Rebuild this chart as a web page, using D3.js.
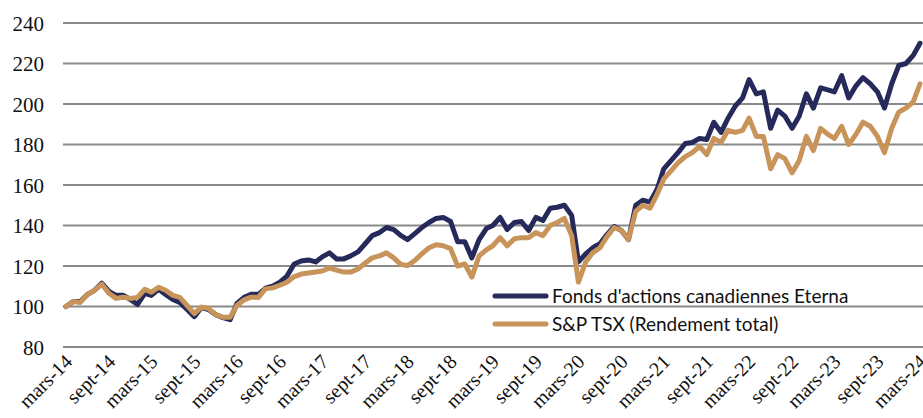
<!DOCTYPE html>
<html lang="fr">

<head>
    <meta charset="UTF-8">
    <title>Fonds d'actions canadiennes Eterna</title>
    <script src="https://d3js.org/d3.v7.min.js"></script>
    <style>
        body {
            margin: 0;
            background: #fff;
        }

        svg {
            display: block;
        }

        .tick-label {
            font-family: "Liberation Serif", "Times New Roman", serif;
            font-size: 20px;
            fill: #111;
        }

        .y-label {
            font-size: 21px;
        }

        .legend-label {
            font-family: Lato, "Liberation Sans", sans-serif;
            font-size: 19px;
            fill: #111;
        }
    </style>
</head>

<body>
<svg width="923" height="418"></svg>

<script>
    // valeurs mensuelles, mars 2014 = 100
    const startMonth = new Date(2014, 2, 1);

    const fund = [
        100, 102.5, 102.5, 106, 108, 111.5, 107.5, 105.5, 105.5, 103.5, 101, 106.5,
        105.5, 108.5, 106, 103.5, 102, 98.5, 95, 99.5, 98.5, 96, 94.5, 93.5,
        101.5, 104.5, 106, 106, 109, 110, 112, 115, 121, 122.5, 123, 122,
        124.5, 126.5, 123.5, 123.5, 125, 127, 131, 135, 136.5, 139, 138, 135,
        133, 136, 139, 141.5, 143.5, 144, 142, 132, 132, 124, 133, 138.5,
        140, 144, 138, 141.5, 142, 137.5, 144, 142.5, 148.5, 149, 150, 145,
        122, 126, 129, 131, 135.5, 139.5, 137.5, 133, 150, 152.5, 151.5, 158,
        168, 172, 176, 180.5, 181, 183, 182.5, 191, 186, 193, 199, 203,
        212, 205, 206, 188, 197, 194, 188, 194, 205, 198, 208, 207,
        206, 214, 203, 209, 213, 210, 206, 198, 210, 219, 220, 224,
        230
    ];

    const tsx = [
        100, 102.5, 102, 106, 108, 111, 106.5, 104, 104.6, 104, 104.5, 108.5,
        107, 109.5, 108, 105.5, 104.5, 100.5, 96.5, 99.7, 99, 96, 94.7, 94.7,
        100.5, 103.3, 104.6, 104.5, 108.7, 109.2, 110.5, 112, 114.8, 116, 116.5, 117,
        117.5, 119, 118, 117, 117, 118.5, 121.5, 124, 125, 126.5, 124, 120.7,
        120.2, 122.7, 126, 129, 130.5, 130, 128.6, 120, 121, 114.5, 125, 128,
        130, 134, 130, 133.5, 134, 134, 136.5, 135, 140, 141.5, 143.5, 135,
        112, 122, 126.5, 129, 134.5, 139, 137.5, 133, 147, 150, 148.5, 155.5,
        163, 167, 171, 174, 176, 179, 175, 183, 181, 187, 186, 187,
        193, 184, 184, 168, 175, 173, 166, 172, 184, 177, 188, 185,
        183, 189, 180, 185, 191, 189, 184, 176, 188, 196, 198, 201,
        210
    ];

    const seriesNames = ["Fonds d'actions canadiennes Eterna", "S&P TSX (Rendement total)"];
    const seriesColors = ["#262a5b", "#c8945a"];

    const yTicks = [80, 100, 120, 140, 160, 180, 200, 220, 240];
    const xTickLabels = [
        "mars-14", "sept-14", "mars-15", "sept-15", "mars-16", "sept-16", "mars-17",
        "sept-17", "mars-18", "sept-18", "mars-19", "sept-19", "mars-20", "sept-20",
        "mars-21", "sept-21", "mars-22", "sept-22", "mars-23", "sept-23", "mars-24"
    ];

    const monthOf = i => d3.timeMonth.offset(startMonth, i);

    const svg = d3.select("svg");

    const x = d3.scaleTime()
        .domain([startMonth, monthOf(fund.length - 1)])
        .range([66, 920]);

    const y = d3.scaleLinear()
        .domain([80, 240])
        .range([347, 23]);

    // grille horizontale
    svg.append("g")
        .selectAll("line")
        .data(yTicks)
        .join("line")
        .attr("x1", 63)
        .attr("x2", 923)
        .attr("y1", d => y(d))
        .attr("y2", d => y(d))
        .attr("stroke", "#8a8a8a")
        .attr("stroke-width", 2);

    // axe y
    const yAxis = svg.append("g")
        .attr("transform", "translate(44,0)")
        .call(d3.axisLeft(y).tickValues(yTicks).tickSize(0).tickPadding(0));
    yAxis.select(".domain").remove();
    yAxis.selectAll("text")
        .attr("class", "tick-label y-label")
        .attr("font-family", null)
        .attr("font-size", null)
        .attr("dy", "0.34em");

    // axe x, étiquettes tous les 6 mois
    const xTicks = xTickLabels.map((_, i) => monthOf(i * 6));
    const xAxis = svg.append("g")
        .attr("transform", "translate(0,347)")
        .call(d3.axisBottom(x).tickValues(xTicks).tickSize(0)
            .tickFormat((d, i) => xTickLabels[i]));
    xAxis.select(".domain").remove();
    xAxis.selectAll("text")
        .attr("class", "tick-label")
        .attr("font-family", null)
        .attr("font-size", null)
        .attr("text-anchor", "end")
        .attr("dy", 0)
        .attr("y", 0)
        .attr("transform", "translate(7,16) rotate(-45)");

    // courbes
    const line = d3.line()
        .x((d, i) => x(monthOf(i)))
        .y(d => y(d));

    [fund, tsx].forEach((values, k) => {
        svg.append("path")
            .datum(values)
            .attr("fill", "none")
            .attr("stroke", seriesColors[k])
            .attr("stroke-width", 5)
            .attr("stroke-linejoin", "round")
            .attr("stroke-linecap", "round")
            .attr("d", line);
    });

    // légende
    const legend = svg.append("g")
        .attr("transform", "translate(495,296)");

    const item = legend.selectAll("g")
        .data(seriesNames)
        .join("g")
        .attr("transform", (d, i) => `translate(0,${i * 28})`);

    item.append("line")
        .attr("x1", 0)
        .attr("x2", 51)
        .attr("stroke", (d, i) => seriesColors[i])
        .attr("stroke-width", 5)
        .attr("stroke-linecap", "round");

    item.append("text")
        .attr("class", "legend-label")
        .attr("x", 57)
        .attr("dy", "0.35em")
        .text(d => d);
</script>
</body>

</html>
